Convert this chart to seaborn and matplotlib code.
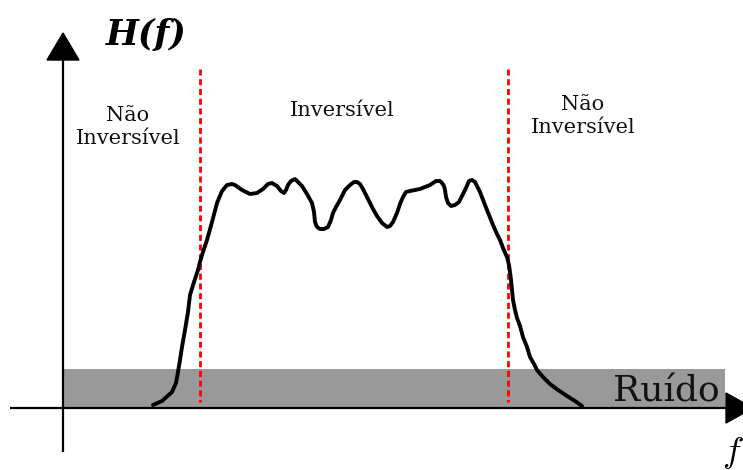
import numpy as np
import pandas as pd
import matplotlib
matplotlib.use('Agg')
import matplotlib.pyplot as plt
from matplotlib.patches import Polygon, Rectangle
import seaborn as sns

sns.set_theme(style='white')
plt.rcParams['mathtext.fontset'] = 'cm'
plt.rcParams['font.family'] = ['DejaVu Serif', 'DejaVu Sans']
plt.rcParams['text.color'] = 'black'

# Curve H(f), traced in picture units (x to the right, y downwards)
freq = [153, 162, 172, 176, 178, 180, 182, 185, 188, 190, 194, 198, 200, 202,
        207, 212, 217, 222, 227, 232, 235, 242, 250, 257, 263, 268, 272, 277,
        281, 284, 286, 288, 291, 295, 298, 302, 307, 312, 314, 315, 317, 320,
        324, 328, 331, 333, 336, 340, 345, 350, 354, 357, 360, 363, 368, 373,
        377, 382, 387, 390, 393, 397, 400, 403, 406, 410, 415, 420, 425, 430,
        436, 440, 442, 444, 445, 446, 448, 451, 455, 459, 462, 466, 469, 472,
        475, 477, 480, 485, 489, 493, 497, 500, 503, 507, 509, 510, 511, 512,
        513, 515, 517, 520, 523, 527, 530, 534, 537, 543, 550, 558, 567, 575,
        582]
gain = [405, 401, 392, 383, 372, 360, 347, 330, 312, 295, 282, 270, 262, 255,
        240, 222, 203, 191, 185, 184, 185, 190, 194, 193, 189, 184, 183, 186,
        191, 193, 190, 185, 181, 179, 182, 186, 194, 203, 212, 222, 227, 229,
        229, 227, 220, 213, 207, 200, 190, 185, 182, 182, 184, 189, 199, 209,
        216, 223, 227, 226, 222, 213, 204, 197, 192, 191, 190, 189, 187, 185,
        181, 181, 183, 186, 190, 197, 203, 206, 205, 202, 196, 188, 181, 180,
        182, 186, 192, 205, 215, 225, 234, 240, 248, 257, 265, 272, 280, 290,
        300, 310, 318, 326, 337, 347, 357, 364, 370, 377, 384, 390, 396, 401,
        406]

# Regions and labels
cut_freqs = [200, 508]
region_labels = ['Não\nInversível', 'Inversível', 'Não\nInversível']
region_x = [128, 342, 583]
region_y = [127, 110, 116]
noise_label = 'Ruído'
noise_level = 369
x_label = r'$f$'
y_label = 'H(f)'

# Axis geometry (picture units)
origin_x, origin_y = 63, 408
x_start, x_end = 10, 726
y_top, y_bottom = 60, 452

df = pd.DataFrame({'f': freq, 'H': gain})

fig = plt.figure(figsize=(7.43, 4.70), dpi=100)
ax = fig.add_axes([0, 0, 1, 1])

# noise band
ax.add_patch(Rectangle((origin_x, noise_level), x_end - 1 - origin_x,
                       origin_y - noise_level, facecolor='#999999',
                       edgecolor='none', zorder=1))

# axes with arrow heads
ax.plot([x_start, x_end], [origin_y, origin_y], color='black', lw=1.6, zorder=2,
        solid_capstyle='butt')
ax.plot([origin_x, origin_x], [y_bottom, y_top], color='black', lw=1.6, zorder=2,
        solid_capstyle='butt')
ax.add_patch(Polygon([[origin_x - 16, y_top], [origin_x + 16, y_top],
                      [origin_x, y_top - 27]], closed=True, color='black',
                     zorder=3))
ax.add_patch(Polygon([[x_end, origin_y - 15], [x_end, origin_y + 15],
                      [x_end + 27, origin_y]], closed=True, color='black',
                     zorder=3, clip_on=False))

# red dashed cut-off lines
for cf in cut_freqs:
    ax.plot([cf, cf], [69, 402], color='red', lw=2,
            linestyle=(0, (2.2, 1.3)), zorder=4)

# H(f) curve
sns.lineplot(data=df, x='f', y='H', sort=False, estimator=None, ax=ax,
             color='black', lw=2.8, zorder=5)
ax.set_xlim(0, 743)
ax.set_ylim(470, 0)
ax.axis('off')

# text
for lab, lx, ly in zip(region_labels, region_x, region_y):
    ax.text(lx, ly, lab, ha='center', va='center', fontsize=15,
            linespacing=1.25, color='#111111', zorder=6)
ax.text(666, 401, noise_label, ha='center', va='baseline', fontsize=26,
        color='#111111', zorder=6)
ax.text(146, 45, y_label, ha='center', va='baseline', fontsize=25,
        fontweight='bold', fontstyle='italic', color='black', zorder=6)
ax.text(733, 462, x_label, ha='center', va='baseline', fontsize=26,
        color='black', zorder=6)

fig.savefig('out.png', dpi=100)
